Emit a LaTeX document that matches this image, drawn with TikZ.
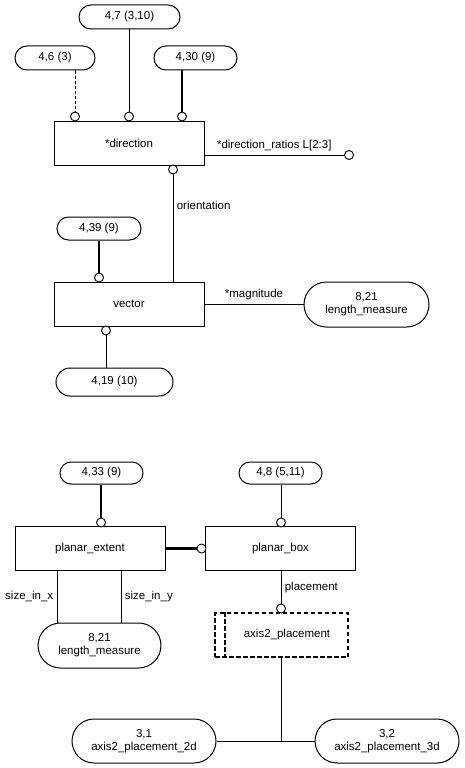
\documentclass[tikz,border=0pt]{standalone}
\usepackage{fontspec}
\setmainfont{Liberation Sans}
\usetikzlibrary{positioning,shapes.misc}
\tikzset{
  entity/.style={draw=black, line width=1pt, rectangle, minimum width=150pt, minimum height=44pt, inner sep=0pt},
  pill/.style={draw=black, line width=1pt, rounded rectangle, minimum height=24pt, inner sep=2pt, align=center},
  typebox/.style={draw=black, line width=1.8pt, dash pattern=on 4.5pt off 2.5pt, rectangle, minimum width=133pt, minimum height=44pt, inner sep=0pt},
  ring/.style={draw=black, line width=0.9pt, circle, fill=white, inner sep=0pt, minimum size=9pt},
  rel/.style={line width=1pt},
  thickrel/.style={line width=2.6pt},
  optrel/.style={line width=1pt, dash pattern=on 3pt off 2pt}
}

\begin{document}
\begin{tikzpicture}[x=1pt,y=-1pt,font=\fontsize{11.5}{13}\selectfont]
    \useasboundingbox (0,0) rectangle (464,768);

    % direction / vector
    \node[entity] (dir) at (129,143) {*direction};
    \node[pill, minimum width=105pt] (p47) at (129.5,17) {4,7 (3,10)};
    \node[pill, minimum width=84pt] (p46) at (55,58) {4,6 (3)};
    \node[pill, minimum width=87pt] (p430) at (195.5,58) {4,30 (9)};
    \node[ring] (r46) at (75,116.5) {};
    \node[ring] (r47) at (129,116.5) {};
    \node[ring] (r430) at (182,116.5) {};
    \node[ring] (rdr) at (349,155) {};
    \node[ring] (rori) at (173,169.5) {};

    \node[entity] (vec) at (129,304) {vector};
    \node[pill, minimum width=88pt, minimum height=23pt] (p439) at (99,228.5) {4,39 (9)};
    \node[ring] (r439) at (99,277.5) {};
    \node[pill, minimum width=129pt, minimum height=45pt] (lm1) at (366.5,304.5) {8,21\\length\_measure};
    \node[ring] (r419) at (106,330.5) {};
    \node[pill, minimum width=121pt, minimum height=28pt] (p419) at (114.5,382) {4,19 (10)};

    \draw[optrel] (r46 |- p46.south) -- (r46);
    \draw[rel] (r47 |- p47.south) -- (r47);
    \draw[thickrel] (r430 |- p430.south) -- (r430);
    \draw[rel] (dir.east |- rdr) -- node[above] {*direction\_ratios L[2:3]} (rdr);
    \draw[rel] (rori) -- node[pos=0.29, right] {orientation} (rori |- vec.north);
    \draw[thickrel] (r439 |- p439.south) -- (r439);
    \draw[rel] (vec.east) -- node[above] {*magnitude} (vec.east -| lm1.west);
    \draw[rel] (r419) -- (r419 |- p419.north);

    % planar_extent / planar_box
    \node[entity] (pext) at (90,548.5) {planar\_extent};
    \node[entity] (pbox) at (280.5,548.5) {planar\_box};
    \node[pill, minimum width=87pt, minimum height=22pt] (p433) at (101.5,473) {4,33 (9)};
    \node[pill, minimum width=87pt, minimum height=22pt] (p48) at (280.5,473) {4,8 (5,11)};
    \node[ring] (r433) at (101,522.5) {};
    \node[ring] (r48) at (281,522.5) {};
    \node[ring] (rpb) at (201.5,548.5) {};
    \node[pill, minimum width=127pt, minimum height=45pt] (lm2) at (99.5,645.5) {8,21\\length\_measure};
    \node[ring] (rpl) at (281,608.5) {};
    \node[typebox] (a2p) at (281.5,635) {\hspace*{11pt}axis2\_placement};
    \node[pill, minimum width=148pt, minimum height=44pt] (p31) at (144,741) {3,1\\axis2\_placement\_2d};
    \node[pill, minimum width=148pt, minimum height=44pt] (p32) at (387,741) {3,2\\axis2\_placement\_3d};
    \coordinate (sx) at (57,570);
    \coordinate (sy) at (121,570);
    \coordinate (jn) at (a2p.south |- p31.east);

    \draw[thickrel] (r433 |- p433.south) -- (r433);
    \draw[rel] (r48 |- p48.south) -- (r48);
    \draw[thickrel] (pext.east) -- (rpb);
    \draw[rel] (sx) -- node[left] {size\_in\_x} (sx |- lm2.north);
    \draw[rel] (sy) -- node[right] {size\_in\_y} (sy |- lm2.north);
    \draw[rel] (rpl |- pbox.south) -- node[right] {placement} (rpl);
    \draw[line width=1.8pt, dash pattern=on 4.5pt off 2.5pt] ([xshift=11pt]a2p.north west) -- ([xshift=11pt]a2p.south west);
    \draw[rel] (a2p.south) -- (jn);
    \draw[rel] (p31.east) -- (p32.west);
\end{tikzpicture}
\end{document}
